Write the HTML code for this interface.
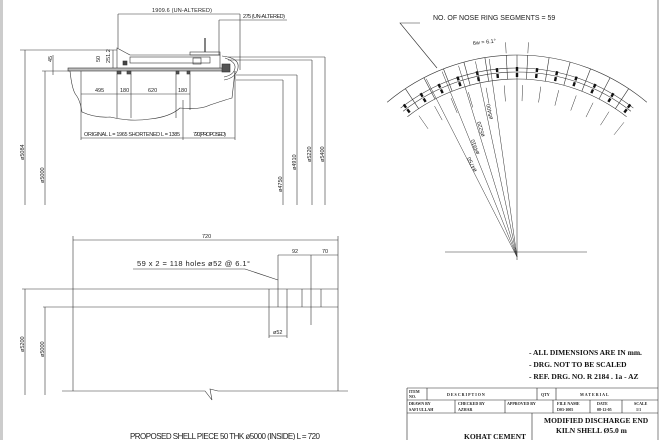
<!DOCTYPE html>
<html><head><meta charset="utf-8"><style>
html,body{margin:0;padding:0;background:#fff;width:660px;height:440px;overflow:hidden}
svg{display:block}
text{font-family:"Liberation Sans",sans-serif;fill:#222}
.s{font-size:5.5px}
.n{font-family:"Liberation Serif",serif;font-weight:bold;font-size:7.5px;fill:#111}
.t{font-family:"Liberation Serif",serif;font-weight:bold;font-size:4px;fill:#222}
</style></head><body>
<svg id="d" width="660" height="440" viewBox="0 0 660 440" stroke="#333" stroke-width="0.6" fill="none">
<rect x="0" y="0" width="3" height="440" fill="#ccc" stroke="none"/>
<line x1="658" y1="0" x2="658" y2="440"/>
<g>
<line x1="118" y1="14" x2="240" y2="14"/><line x1="118" y1="14" x2="118" y2="48"/><line x1="240" y1="14" x2="240" y2="70"/>
<text class="s" x="152" y="12" stroke="none" textLength="60">1909.6 (UN-ALTERED)</text>
<line x1="219" y1="20" x2="287" y2="20"/><line x1="219" y1="20" x2="219" y2="55"/>
<text class="s" x="243" y="18" stroke="none" textLength="42">275 (UN-ALTERED)</text>
<rect x="68" y="68" width="158" height="3" fill="#bbb"/>
<polyline points="117,68 117,48 130,55 220,55 220,68"/>
<rect x="190" y="52" width="30" height="3"/><line x1="205" y1="38" x2="205" y2="52" stroke-width="1.2"/>
<rect x="130" y="57" width="80" height="6"/>
<rect x="193" y="58" width="8" height="6"/>
<path d="M222 56 Q240 58 238 68 Q236 78 224 80" /><path d="M225 58 Q236 62 235 68 Q234 75 224 77"/>
<rect x="222" y="64" width="8" height="8" fill="#555"/>
<rect x="123" y="61" width="4" height="4" fill="#444"/>
<rect x="117" y="71" width="4" height="3" fill="#555"/><rect x="127" y="71" width="4" height="3" fill="#555"/>
<rect x="176" y="71" width="3" height="3" fill="#555"/><rect x="187" y="71" width="3" height="3" fill="#555"/>
<path d="M70 71 Q72 90 76 95 Q80 100 82 112 Q95 118 110 117 Q130 122 150 119 Q170 117 180 108 Q200 110 210 105 Q225 100 232 98 L235 71"/>
<line x1="81" y1="71" x2="81" y2="140"/><line x1="117" y1="74" x2="117" y2="118"/><line x1="131" y1="74" x2="131" y2="118"/>
<line x1="176" y1="74" x2="176" y2="118"/><line x1="183" y1="100" x2="183" y2="140"/><line x1="190" y1="74" x2="190" y2="110"/><line x1="235" y1="71" x2="235" y2="140"/>
<line x1="81" y1="94" x2="190" y2="94"/>
<text class="s" x="95" y="92" stroke="none">495</text><text class="s" x="120" y="92" stroke="none">180</text>
<text class="s" x="148" y="92" stroke="none">620</text><text class="s" x="178" y="92" stroke="none">180</text>
<line x1="81" y1="138" x2="235" y2="138"/>
<text class="s" x="84" y="136" stroke="none" textLength="96">ORIGINAL L = 1965  SHORTENED L = 1385</text>
<text class="s" x="193" y="136" stroke="none" textLength="33">720(PROPOSED)</text>
<line x1="25" y1="50" x2="25" y2="205"/><line x1="20" y1="50" x2="117" y2="50"/>
<line x1="45" y1="71" x2="45" y2="205"/><line x1="42" y1="71" x2="70" y2="71"/>
<line x1="53" y1="55" x2="53" y2="75"/><text class="s" transform="translate(52,62) rotate(-90)" stroke="none">45</text>
<text class="s" transform="translate(100,62) rotate(-90)" stroke="none">50</text>
<text class="s" transform="translate(110,63) rotate(-90)" stroke="none">251.2</text>
<line x1="113" y1="50" x2="113" y2="68"/>
<text class="s" transform="translate(24,160) rotate(-90)" stroke="none">ø5084</text>
<text class="s" transform="translate(44,183) rotate(-90)" stroke="none">ø5000</text>
<line x1="228" y1="57" x2="325" y2="57"/><line x1="228" y1="60" x2="312" y2="60"/><line x1="236" y1="75" x2="297" y2="75"/><line x1="236" y1="80" x2="283" y2="80"/>
<line x1="283" y1="80" x2="283" y2="205"/><line x1="297" y1="75" x2="297" y2="205"/><line x1="312" y1="60" x2="312" y2="205"/><line x1="325" y1="57" x2="325" y2="205"/>
<text class="s" transform="translate(282,192) rotate(-90)" stroke="none">ø4750</text>
<text class="s" transform="translate(296,170) rotate(-90)" stroke="none">ø4910</text>
<text class="s" transform="translate(311,162) rotate(-90)" stroke="none">ø5220</text>
<text class="s" transform="translate(324,162) rotate(-90)" stroke="none">ø5400</text>
</g>
<g id="arc">
<text x="433" y="20" stroke="none" style="font-size:7px">NO. OF NOSE RING SEGMENTS = 59</text>
<polyline points="420,23 400,23 437,68"/>
<line x1="517" y1="55" x2="517" y2="260"/><line x1="445" y1="252" x2="587" y2="252"/>
<text class="s" transform="translate(473,45) rotate(-6)" stroke="none">6w = 6.1°</text>
</g>
<g>
<line x1="73" y1="240" x2="338" y2="240"/><line x1="73" y1="236" x2="73" y2="391"/><line x1="338" y1="236" x2="338" y2="391"/>
<text class="s" x="202" y="238" stroke="none">720</text>
<text x="137" y="266" style="font-size:7.5px" stroke="none" textLength="113">59 x 2 = 118 holes ø52 @ 6.1°</text>
<polyline points="133,269 245,269 278,280"/>
<line x1="278" y1="255" x2="338" y2="255"/><line x1="278" y1="255" x2="278" y2="307"/><line x1="311" y1="255" x2="311" y2="325"/>
<text class="s" x="292" y="253" stroke="none">92</text><text class="s" x="322" y="253" stroke="none">70</text>
<line x1="22" y1="289" x2="338" y2="289"/><line x1="43" y1="307" x2="338" y2="307"/>
<line x1="269" y1="289" x2="269" y2="338"/><line x1="287" y1="289" x2="287" y2="338"/>
<line x1="302" y1="289" x2="302" y2="307"/><line x1="321" y1="289" x2="321" y2="307"/>
<line x1="269" y1="336" x2="287" y2="336"/><text class="s" x="273" y="334" stroke="none">ø52</text>
<polyline points="62,391 205,391 212,400 210,389 218,391 348,391"/>
<line x1="25" y1="289" x2="25" y2="395"/><line x1="45" y1="307" x2="45" y2="395"/>
<text class="s" transform="translate(24,352) rotate(-90)" stroke="none">ø5200</text>
<text class="s" transform="translate(44,357) rotate(-90)" stroke="none">ø5000</text>
<text x="130" y="439" style="font-size:8px" stroke="none" textLength="190">PROPOSED SHELL PIECE 50 THK  ø5000 (INSIDE) L = 720</text>
</g>
<text class="n" x="529" y="355" stroke="none">- ALL DIMENSIONS ARE IN mm.</text>
<text class="n" x="529" y="367" stroke="none">- DRG. NOT TO BE SCALED</text>
<text class="n" x="529" y="379" stroke="none">- REF.  DRG. NO. R 2184 . 1a - AZ</text>
<g stroke="#222">
<line x1="407" y1="388" x2="658" y2="388"/><line x1="407" y1="400" x2="658" y2="400"/><line x1="407" y1="413" x2="658" y2="413"/>
<line x1="407" y1="388" x2="407" y2="440"/><line x1="427" y1="388" x2="427" y2="400"/><line x1="537" y1="388" x2="537" y2="400"/><line x1="556" y1="388" x2="556" y2="400"/>
<line x1="455" y1="400" x2="455" y2="413"/><line x1="505" y1="400" x2="505" y2="413"/><line x1="553" y1="400" x2="553" y2="413"/><line x1="590" y1="400" x2="590" y2="413"/><line x1="622" y1="400" x2="622" y2="413"/>
<line x1="532" y1="413" x2="532" y2="440"/>
</g>
<g stroke="none">
<text class="t" x="409" y="393">ITEM</text><text class="t" x="409" y="398">NO.</text>
<text class="t" x="447" y="396" letter-spacing="1">DESCRIPTION</text><text class="t" x="541" y="396">QTY</text><text class="t" x="580" y="396" letter-spacing="1">MATERIAL</text>
<text class="t" x="409" y="405">DRAWN BY</text><text class="t" x="409" y="411">SAFI ULLAH</text>
<text class="t" x="458" y="405">CHECKED BY</text><text class="t" x="458" y="411">AZHAR</text>
<text class="t" x="507" y="405">APPROVED BY</text>
<text class="t" x="557" y="405">FILE NAME</text><text class="t" x="557" y="411">D03-1005</text>
<text class="t" x="597" y="405">DATE</text><text class="t" x="597" y="411">08-12-05</text>
<text class="t" x="634" y="405">SCALE</text><text class="t" x="636" y="411">1/1</text>
<text class="n" x="464" y="439">KOHAT CEMENT</text>
<text class="n" x="544" y="423">MODIFIED DISCHARGE END</text>
<text class="n" x="556" y="433">KILN SHELL Ø5.0 m</text>
</g>
</svg>
<script>
var g=document.getElementById('arc'),NS='http://www.w3.org/2000/svg',cx=517,cy=257;
function P(r,a){a=a*Math.PI/180;return [cx+r*Math.sin(a),cy-r*Math.cos(a)];}
function L(p,q,w,c){var l=document.createElementNS(NS,'line');l.setAttribute('x1',p[0]);l.setAttribute('y1',p[1]);l.setAttribute('x2',q[0]);l.setAttribute('y2',q[1]);if(w)l.setAttribute('stroke-width',w);if(c)l.setAttribute('stroke',c);g.appendChild(l);}
function A(r,a0,a1){var p=document.createElementNS(NS,'path'),s=P(r,a0),e=P(r,a1);p.setAttribute('d','M'+s+' A'+r+' '+r+' 0 0 1 '+e);g.appendChild(p);}
A(202,-40,40);A(189,-38,38);A(185,-38,38);A(178,-38,38);
for(var k=-6;k<=6;k++){var b=-3.05+k*6.1;if(b>-38&&b<38)L(P(178,b),P(202,b));
 var b2=3.05+k*6.1;L(P(172,b2-1.2),P(156,b2-1.2),0.5);
 var c=k*6.1;if(Math.abs(c)<37){L(P(190,c),P(186,c),2.4,'#111');L(P(184,c),P(180,c),2.4,'#111');}}
[-27,-22,-17,-12,-8].forEach(function(a){L(P(0,0),P(200,a),0.5);});
[['ø4750',-25,95],['ø4910',-20,110],['ø5220',-15,125],['ø5400',-10,140]].forEach(function(d){var p=P(d[2],d[1]);var t=document.createElementNS(NS,'text');t.setAttribute('class','s');t.setAttribute('stroke','none');t.setAttribute('transform','translate('+p[0]+','+p[1]+') rotate('+(d[1]-90)+')');t.textContent=d[0];g.appendChild(t);});
L(P(204,-3.05),P(215,-3.05),0.5);L(P(204,3.05),P(215,3.05),0.5);
</script>
</body></html>
